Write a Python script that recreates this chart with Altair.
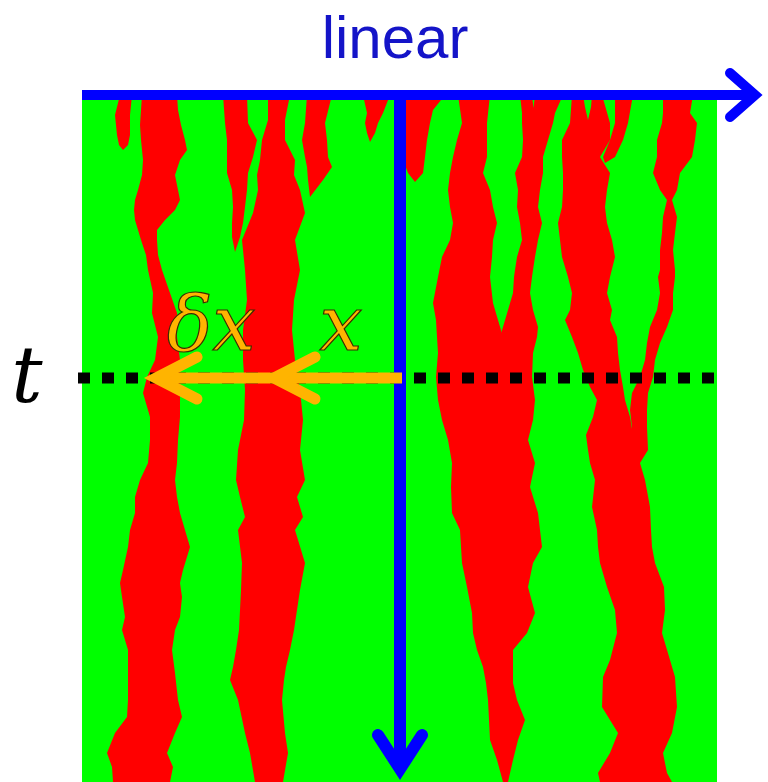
import altair as alt
import pandas as pd

# Lattice: sites along x, time steps running down the page
N_SITES = 635
N_STEPS = 687

# ---- red domains: left / right boundary site at sampled time steps ----
f1_t = [0, 20, 40, 50, 55]
f1_l = [38, 33, 35, 37, 41]
f1_r = [50, 48, 48, 46, 41]

a_t = [0, 15, 30, 45, 55, 65, 80, 95, 105, 115, 125, 135, 145, 160, 175, 198, 218, 242, 265, 282,
       298, 322, 345, 368, 385, 402, 418, 435, 452, 475, 488, 502, 522, 535, 555, 578, 605, 622, 638, 658,
       672, 687]
a_l = [60, 59, 58, 59, 60, 61, 60, 56, 53, 52, 53, 56, 59, 64, 66, 71, 70, 76, 73, 65,
       61, 68, 68, 66, 58, 53, 53, 48, 46, 41, 38, 40, 43, 40, 46, 46, 46, 45, 33, 25,
       30, 31]
a_r = [95, 96, 99, 103, 105, 98, 93, 96, 98, 93, 83, 75, 75, 76, 80, 88, 95, 95, 98, 98,
       98, 98, 96, 95, 93, 95, 98, 103, 108, 101, 98, 100, 98, 93, 90, 93, 96, 100, 93, 85,
       91, 88]

b1_t = [0, 28, 45, 62, 78, 95, 112, 128, 142, 157]
b1_l = [141, 143, 145, 145, 145, 150, 151, 150, 150, 153]
b1_r = [165, 166, 175, 171, 166, 165, 163, 161, 158, 153]

b_t = [0, 25, 45, 65, 80, 95, 118, 145, 175, 205, 235, 265, 295, 325, 355, 385, 402, 422, 435, 468,
       495, 515, 535, 555, 572, 585, 605, 638, 658, 687]
b_l = [186, 186, 180, 178, 175, 176, 171, 160, 163, 165, 161, 161, 163, 162, 156, 154, 158, 163, 156, 160,
       159, 158, 157, 154, 151, 148, 156, 163, 168, 173]
b_r = [208, 203, 203, 213, 212, 218, 223, 213, 218, 212, 210, 213, 218, 221, 218, 223, 215, 221, 213, 223,
       218, 215, 212, 208, 204, 202, 200, 203, 206, 201]

f2_t = [0, 28, 45, 62, 72, 85, 102]
f2_l = [225, 223, 220, 223, 225, 226, 228]
f2_r = [250, 243, 245, 246, 250, 241, 228]

f3_t = [0, 18, 28, 38, 47]
f3_l = [281, 285, 283, 285, 288]
f3_r = [308, 301, 296, 293, 288]

f4_t = [0, 15, 28, 45, 62, 78, 87]
f4_l = [318, 318, 318, 318, 320, 326, 333]
f4_r = [363, 351, 348, 345, 343, 341, 333]

c_t = [0, 28, 45, 62, 78, 95, 112, 128, 145, 162, 182, 208, 225, 242, 258, 282, 305, 325, 345, 368,
       392, 418, 435, 452, 468, 492, 518, 538, 555, 572, 588, 605, 625, 645, 665, 687]
c_l = [376, 380, 375, 371, 368, 366, 368, 371, 368, 360, 356, 351, 354, 355, 356, 354, 356, 360, 366, 370,
       369, 370, 378, 379, 380, 385, 390, 391, 395, 401, 404, 406, 407, 408, 415, 421]
c_r = [408, 405, 405, 405, 401, 408, 411, 415, 411, 410, 408, 411, 416, 421, 451, 450, 453, 451, 446, 453,
       448, 456, 458, 460, 451, 446, 453, 445, 431, 431, 431, 435, 443, 436, 431, 426]

d_t = [0, 18, 28, 45, 62, 78, 95, 112, 128, 145, 162, 175, 182, 198, 215, 232, 242, 258]
d_l = [438, 440, 440, 441, 440, 433, 436, 435, 438, 440, 435, 433, 432, 431, 426, 421, 418, 413]
d_r = [481, 473, 471, 466, 461, 461, 458, 456, 460, 456, 453, 451, 450, 448, 451, 456, 455, 451]

e_t = [0, 28, 45, 62, 78, 95, 112, 128, 145, 162, 182, 198, 215, 225, 242, 258, 275, 292, 305, 322,
       340, 355, 368, 385, 412, 435, 452, 468, 492, 515, 538, 565, 582, 612, 638, 658, 678, 687]
e_l = [490, 488, 480, 480, 481, 481, 480, 476, 478, 480, 486, 490, 488, 483, 490, 496, 501, 508, 515, 511,
       504, 506, 508, 513, 510, 515, 516, 518, 525, 533, 535, 528, 521, 520, 536, 528, 516, 518]
e_r = [520, 528, 528, 518, 528, 525, 523, 525, 530, 533, 528, 525, 530, 528, 535, 536, 538, 541, 543, 548,
       551, 566, 558, 563, 568, 569, 570, 573, 582, 583, 580, 588, 593, 595, 590, 581, 585, 590]

f5_t = [0, 28, 45, 62, 68]
f5_l = [533, 533, 528, 521, 523]
f5_r = [551, 546, 541, 533, 523]

g_t = [0, 18, 28, 45, 62, 78, 95, 105, 122, 138, 155, 175, 182, 198, 215, 232, 248, 265, 282, 298,
       315, 332, 355]
g_l = [581, 581, 580, 575, 575, 571, 578, 585, 581, 580, 578, 578, 576, 578, 575, 568, 565, 563, 558, 550,
       548, 550, 546]
g_r = [611, 608, 615, 613, 610, 598, 595, 590, 595, 593, 591, 593, 593, 591, 591, 585, 578, 573, 571, 566,
       565, 565, 566]

# small green gaps cut into the tops of red domains
gap1_t = [0, 12, 25]
gap1_l = [501, 503, 506]
gap1_r = [510, 509, 506]
gap2_t = [0, 13]
gap2_l = [450, 451.5]
gap2_r = [453, 451.5]

red_domains = {
    "f1": (f1_t, f1_l, f1_r), "a": (a_t, a_l, a_r), "b1": (b1_t, b1_l, b1_r),
    "b": (b_t, b_l, b_r), "f2": (f2_t, f2_l, f2_r), "f3": (f3_t, f3_l, f3_r),
    "f4": (f4_t, f4_l, f4_r), "c": (c_t, c_l, c_r), "d": (d_t, d_l, d_r),
    "e": (e_t, e_l, e_r), "f5": (f5_t, f5_l, f5_r), "g": (g_t, g_l, g_r),
}
green_gaps = {"gap1": (gap1_t, gap1_l, gap1_r), "gap2": (gap2_t, gap2_l, gap2_r)}


def to_frame(groups):
    rows = []
    for name, (ts, ls, rs) in groups.items():
        for t, l, r in zip(ts, ls, rs):
            rows.append({"domain": name, "t": t, "left": l, "right": r})
    return pd.DataFrame(rows)


red_df = to_frame(red_domains)
gap_df = to_frame(green_gaps)

# ---- annotation geometry (lattice units) ----
# blue axes: space arrow along the top, time arrow down the middle
space_arrow_x = [0, 673]
space_arrow_t = [0, 0]
space_head_x = [648, 673, 648]
space_head_t = [-22, 0, 22]
time_arrow_x = [318, 318]
time_arrow_t = [0, 672]
time_head_x = [296, 318, 340]
time_head_t = [640, 674, 640]

# cut at time t: dotted line and the two displacement arrows
cut_t = 283
cut_x = [-4, 634]
disp_x = [320, 74]
head_x_tip = [233, 192, 233]
head_dx_tip = [115, 74, 115]
head_t = [262, 283, 304]


def poly(segments):
    rows = []
    for seg, (xs, ts) in segments.items():
        for k, (x, t) in enumerate(zip(xs, ts)):
            rows.append({"seg": seg, "k": k, "x": x, "t": t})
    return pd.DataFrame(rows)


x_scale = alt.Scale(domain=[0, N_SITES], nice=False, zero=False)
y_scale = alt.Scale(domain=[0, N_STEPS], nice=False, zero=False, reverse=True)


def area_layer(df, color):
    return alt.Chart(df).mark_area(
        color=color, orient="horizontal", interpolate="linear", opacity=1
    ).encode(
        y=alt.Y("t:Q", scale=y_scale, axis=None),
        x=alt.X("left:Q", scale=x_scale, axis=None, stack=None),
        x2="right:Q",
        detail="domain:N",
    )


def line_layer(df, color, width, cap="butt", join="miter"):
    return alt.Chart(df).mark_line(
        color=color, strokeWidth=width, strokeCap=cap, strokeJoin=join, clip=False
    ).encode(
        x=alt.X("x:Q", scale=x_scale, axis=None),
        y=alt.Y("t:Q", scale=y_scale, axis=None),
        detail="seg:N",
        order="k:Q",
    )


red = area_layer(red_df, "#FF0000")
gaps = area_layer(gap_df, "#00FF00")

dotted = alt.Chart(pd.DataFrame({"x0": [cut_x[0]], "x1": [cut_x[1]], "t": [cut_t]})).mark_rule(
    color="black", strokeWidth=11, strokeDash=[12, 12], strokeCap="butt", clip=False
).encode(
    x=alt.X("x0:Q", scale=x_scale, axis=None),
    x2="x1:Q",
    y=alt.Y("t:Q", scale=y_scale, axis=None),
)

blue = "#0000FF"
space_shaft = line_layer(poly({"s": (space_arrow_x, space_arrow_t)}), blue, 10)
space_head = line_layer(poly({"h": (space_head_x, space_head_t)}), blue, 10, cap="round")
time_shaft = line_layer(poly({"s": (time_arrow_x, time_arrow_t)}), blue, 12)
time_head = line_layer(poly({"h": (time_head_x, time_head_t)}), blue, 12, cap="round")

orange = "#FFB400"
disp_shaft = line_layer(poly({"s": (disp_x, [cut_t, cut_t])}), orange, 11)
disp_heads = line_layer(
    poly({"h1": (head_x_tip, head_t), "h2": (head_dx_tip, head_t)}), orange, 11, cap="round"
)

labels = pd.DataFrame({
    "text": ["δx", "x"],
    "x": [129, 259],
    "t": [255, 255],
})
math_labels = alt.Chart(labels).mark_text(
    font="DejaVu Serif", fontStyle="italic", fontSize=76, align="center",
    baseline="alphabetic", fill="#FFB400", stroke="#3d2c00", strokeWidth=1.2,
).encode(
    x=alt.X("x:Q", scale=x_scale, axis=None),
    y=alt.Y("t:Q", scale=y_scale, axis=None),
    text="text:N",
)

t_label = alt.Chart(pd.DataFrame({"text": ["t"], "x": [-55], "t": [307]})).mark_text(
    font="DejaVu Serif", fontStyle="italic", fontSize=78, align="center",
    baseline="alphabetic", color="black",
).encode(
    x=alt.X("x:Q", scale=x_scale, axis=None),
    y=alt.Y("t:Q", scale=y_scale, axis=None),
    text="text:N",
)

title = alt.Chart(pd.DataFrame({"text": ["linear"], "x": [313], "t": [-37]})).mark_text(
    font="Liberation Sans", fontSize=60, align="center", baseline="alphabetic", color="#1414C8",
).encode(
    x=alt.X("x:Q", scale=x_scale, axis=None),
    y=alt.Y("t:Q", scale=y_scale, axis=None),
    text="text:N",
)

chart = alt.layer(
    red, gaps, dotted, space_shaft, space_head, time_shaft, time_head,
    disp_shaft, disp_heads, math_labels, t_label, title,
).properties(
    width=N_SITES,
    height=N_STEPS,
    padding={"left": 82, "top": 95, "right": 51, "bottom": 0},
    autosize=alt.AutoSizeParams(type="none"),
).configure_view(
    fill="#00FF00", stroke=None
)

chart.save("out.html", embed_options={"renderer": "svg", "actions": False})
